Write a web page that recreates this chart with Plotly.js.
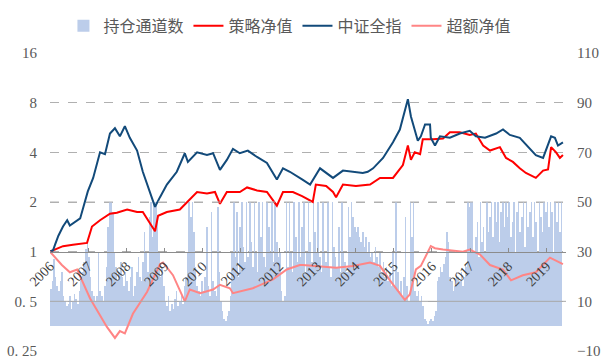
<!DOCTYPE html>
<html>
<head>
<meta charset="utf-8">
<script src="https://cdn.plot.ly/plotly-3.0.1.min.js"></script>
<style>html,body{margin:0;padding:0;background:#fff;}#chart{width:606px;height:360px;}</style>
</head>
<body>
<div id="chart"></div>
<script>
// ---- data ----
var yearTicks = [2006,2007,2008,2009,2010,2011,2012,2013,2014,2015,2016,2017,2018,2019];
var leftTickVals = [0.25,0.5,1,2,4,8,16];
var leftTickText = ['0. 25','0. 5','1','2','4','8','16'];
var rightTickVals = [-10,10,30,50,70,90,110];

// 持仓通道数: half-month values per year
var bars2006 = [15,18,27,20,16,14,18,22,12,10,8,9,12,7,10,13,11,9,14,18,22,26,31,34];
var bars2007 = [28,20,14,12,10,12,30,14,12,10,16,24,40,50,50,46,30,24,18,22,26,20,16,22];
var bars2008 = [18,14,20,24,12,16,22,28,20,18,26,38,30,22,44,50,36,50,50,42,30,20,24,16];
var bars2009 = [10,8,12,6,9,7,11,14,8,10,12,9,16,20,30,50,44,50,38,24,16,14,12,18];
var bars2010 = [14,20,40,16,12,46,18,14,12,48,22,10,6,3,2,4,6,12,30,50,28,46,20,40];
var bars2011 = [50,32,26,50,28,50,34,24,50,30,22,50,36,50,28,24,50,40,30,50,26,50,34,28];
var bars2012 = [30,14,10,12,50,24,50,30,22,50,36,26,50,28,40,50,22,30,50,34,26,50,38,30];
var bars2013 = [50,28,22,50,30,26,50,24,20,50,32,28,24,40,22,50,30,26,22,48,36,50,44,40];
var bars2014 = [38,40,36,34,38,32,36,30,34,28,30,26,32,28,24,30,22,26,20,24,18,22,16,30];
var bars2015 = [16,50,22,14,18,12,20,44,16,10,50,36,50,14,12,14,10,12,8,3,2,1,2,3];
var bars2016 = [2,4,6,18,20,24,22,25,28,38,34,20,18,14,16,22,20,18,22,16,20,24,50,48];
var bars2017 = [50,50,30,36,42,28,50,34,40,30,50,38,44,50,36,50,42,50,34,46,50,40,50,44];
var bars2018 = [50,36,42,50,30,46,50,38,44,50,32,50,40,46,50,36,50,42,30,50,44,38,50,46];
var bars2019 = [50,40,50,46,30,50,42,50,38,50];

// 策略净值
var stratX = [2006.00,2006.10,2006.34,2006.60,2006.97,2007.10,2007.31,2007.57,2007.75,2008.02,2008.28,2008.43,2008.57,2008.75,2008.83,2009.06,2009.40,2009.59,2009.85,2010.11,2010.32,2010.45,2010.63,2010.97,2011.16,2011.42,2011.68,2011.94,2012.10,2012.36,2012.60,2012.88,2012.96,2013.23,2013.41,2013.49,2013.67,2014.01,2014.38,2014.64,2014.98,2015.24,2015.37,2015.45,2015.55,2015.69,2015.76,2016.03,2016.29,2016.47,2016.73,2016.99,2017.15,2017.34,2017.52,2017.78,2017.94,2018.12,2018.30,2018.46,2018.72,2018.91,2019.04,2019.12,2019.25,2019.35,2019.43];
var stratY = [1.00,1.02,1.08,1.10,1.13,1.42,1.55,1.70,1.72,1.80,1.74,1.74,1.55,1.33,1.65,1.74,1.80,2.00,2.30,2.25,2.30,1.95,2.30,2.30,2.45,2.35,2.30,1.90,2.30,2.30,2.17,2.00,2.55,2.50,2.30,2.14,2.55,2.50,2.55,2.80,2.80,3.35,4.40,3.60,4.00,3.90,4.80,4.80,4.85,5.30,5.30,5.10,5.20,4.40,4.10,4.30,3.70,3.50,3.20,3.00,2.80,3.10,3.15,4.30,4.00,3.70,3.85];

// 中证全指
var indexX = [2006.00,2006.08,2006.13,2006.22,2006.34,2006.45,2006.52,2006.62,2006.79,2006.99,2007.13,2007.31,2007.44,2007.57,2007.70,2007.83,2007.96,2008.09,2008.28,2008.43,2008.62,2008.75,2008.88,2009.06,2009.32,2009.53,2009.61,2009.85,2010.11,2010.27,2010.45,2010.63,2010.79,2010.97,2011.18,2011.42,2011.68,2011.94,2012.10,2012.28,2012.60,2012.81,2013.07,2013.41,2013.67,2013.93,2014.19,2014.32,2014.46,2014.72,2014.98,2015.16,2015.29,2015.37,2015.45,2015.55,2015.63,2015.71,2015.82,2015.95,2015.97,2016.08,2016.21,2016.47,2016.73,2016.99,2017.15,2017.39,2017.68,2017.86,2018.04,2018.30,2018.57,2018.72,2018.91,2019.12,2019.22,2019.30,2019.43];
var indexY = [1.00,1.02,1.10,1.25,1.42,1.55,1.44,1.50,1.59,2.32,2.80,4.00,3.90,5.20,5.60,5.00,5.76,4.90,4.10,3.05,2.30,1.87,2.14,2.55,3.05,3.95,3.50,4.00,3.85,3.95,3.13,3.60,4.20,3.95,4.10,3.75,3.45,2.74,3.20,3.05,2.74,2.55,3.20,2.80,3.10,3.05,3.00,3.05,3.20,3.70,4.60,5.50,7.30,8.40,6.60,5.40,4.70,5.00,5.90,5.90,4.90,4.40,5.00,4.90,5.20,5.40,5.00,4.90,5.20,5.50,5.10,4.90,4.20,3.85,3.70,5.00,4.90,4.40,4.60];

// 超额净值
var excessX = [2006.00,2006.31,2006.52,2006.71,2007.05,2007.23,2007.49,2007.70,2007.83,2007.96,2008.17,2008.54,2008.88,2008.96,2009.22,2009.53,2009.66,2009.93,2010.27,2010.45,2010.71,2010.79,2011.31,2011.84,2012.20,2012.54,2012.62,2013.49,2013.93,2014.38,2014.64,2014.90,2015.29,2015.42,2015.58,2015.71,2015.97,2016.08,2016.29,2016.81,2016.99,2017.26,2017.52,2017.86,2018.07,2018.38,2018.72,2019.09,2019.43];
var excessY = [1.00,0.83,0.75,0.78,0.52,0.44,0.35,0.30,0.33,0.32,0.42,0.57,0.84,0.86,0.72,0.50,0.59,0.56,0.59,0.63,0.60,0.56,0.60,0.68,0.78,0.83,0.83,0.80,0.82,0.86,0.82,0.67,0.51,0.55,0.78,0.82,1.08,1.05,1.03,1.00,1.03,0.96,0.83,0.78,0.67,0.72,0.75,0.92,0.84];

// ---- build bar trace ----
var barYears = [2006,2007,2008,2009,2010,2011,2012,2013,2014,2015,2016,2017,2018,2019];
var barSets = [bars2006,bars2007,bars2008,bars2009,bars2010,bars2011,bars2012,bars2013,bars2014,bars2015,bars2016,bars2017,bars2018,bars2019];
var barX = [], barY = [];
barSets.forEach(function(arr, k){
  arr.forEach(function(v, i){ barX.push(barYears[k] + (i + 0.5) / 24); barY.push(v); });
});

var serif = '"Liberation Serif", "Times New Roman", "Noto Sans CJK SC", serif';
var cjk = '"Liberation Serif", "Noto Sans CJK SC", serif';

// bars on the base (right, linear) axis so that the lines (overlaying axis) draw on top
var traces = [
  {type:'bar', name:'持仓通道数', x:barX, y:barY, yaxis:'y', width:1/24,
   marker:{color:'#bccdea', line:{width:0}}},
  {type:'scatter', mode:'lines', name:'策略净值', x:stratX, y:stratY, yaxis:'y2',
   line:{color:'#ff0000', width:2}},
  {type:'scatter', mode:'lines', name:'中证全指', x:indexX, y:indexY, yaxis:'y2',
   line:{color:'#124a7a', width:2}},
  {type:'scatter', mode:'lines', name:'超额净值', x:excessX, y:excessY, yaxis:'y2',
   line:{color:'#ff8585', width:2}}
];

var layout = {
  width:606, height:360,
  margin:{l:50, r:40, t:45, b:9},
  paper_bgcolor:'#ffffff', plot_bgcolor:'#ffffff',
  showlegend:true,
  bargap:0,
  legend:{orientation:'h', x:0.465, xanchor:'center', y:1.0915, yanchor:'middle',
          font:{family:cjk, size:16, color:'#595959'}, itemwidth:30, tracegroupgap:0},
  shapes:[
    {type:'line', xref:'paper', x0:0, x1:1, yref:'y2', y0:0.5, y1:0.5, layer:'above',
     line:{color:'#a8a8a8', width:1}},
    {type:'line', xref:'paper', x0:0, x1:1, yref:'y2', y0:2, y1:2, layer:'above',
     line:{color:'#b0b0b0', width:1, dash:'dash'}}
  ],
  xaxis:{type:'linear', range:[2006, 2019.51], tickvals:yearTicks,
         ticktext:yearTicks.map(String), tickangle:-45,
         anchor:'free', position:0.3333, showline:true, linecolor:'#8c8c8c', linewidth:1,
         ticks:'inside', ticklen:4, tickcolor:'#8c8c8c', showgrid:false, zeroline:false,
         tickfont:{family:serif, size:14, color:'#404040'}},
  yaxis:{side:'right', range:[-10, 110], tickvals:rightTickVals,
         showgrid:true, gridcolor:'#b0b0b0', griddash:'dash', gridwidth:1,
         zeroline:false, showline:false, ticks:'', ticklabelstandoff:10,
         tickfont:{family:serif, size:15, color:'#595959'}},
  yaxis2:{overlaying:'y', side:'left', type:'log', range:[Math.log10(0.25), Math.log10(16)],
          tickvals:leftTickVals, ticktext:leftTickText, showgrid:false,
          zeroline:false, showline:false, ticks:'', ticklabelstandoff:12,
          tickfont:{family:serif, size:15, color:'#595959'}}
};

Plotly.newPlot('chart', traces, layout, {displayModeBar:false, staticPlot:true});
</script>
</body>
</html>
